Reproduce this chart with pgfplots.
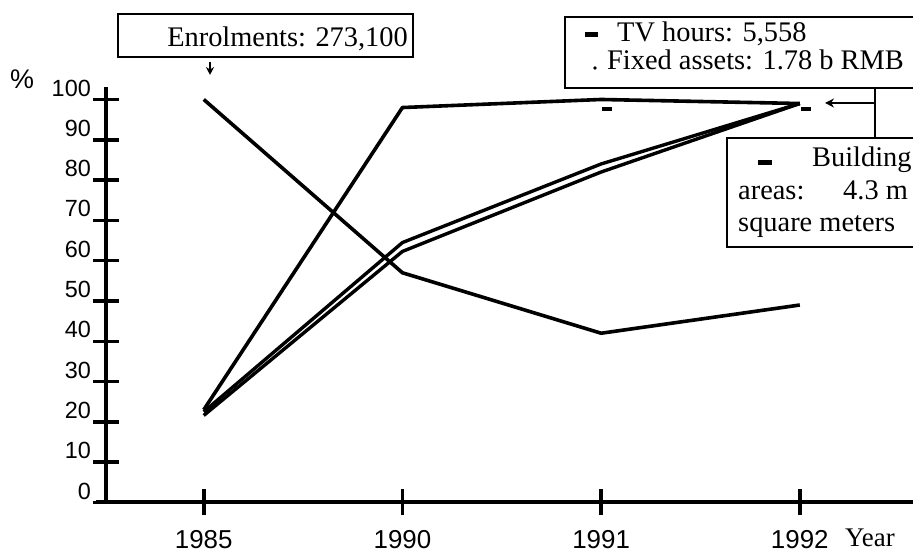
\documentclass[border=0pt]{standalone}
\usepackage{fontspec}
\setmainfont{Liberation Sans}
\newfontfamily\serif{Liberation Serif}
\usepackage{pgfplots}
\pgfplotsset{compat=1.18}
\usetikzlibrary{arrows.meta}

\pgfplotstableread{
x y
0 100
1 57
2 42
3 49
}\enrol
\pgfplotstableread{
x y
0 23
1 98
2 100
3 99
}\tvhours
\pgfplotstableread{
x y
0 22.5
1 64.5
2 84
3 99
}\building
\pgfplotstableread{
x y
0 21.6
1 62.3
2 82
3 99
}\fixed
\pgfplotstableread{
x y
2.03 97.6
3.03 97.6
}\dashes

\begin{document}
\begin{tikzpicture}[x=1bp,y=1bp]
\begin{axis}[
  at={(106bp,53.5bp)}, anchor=south west, scale only axis,
  width=813bp, height=415.5bp,
  xmin=-0.492, xmax=3.6, ymin=0, ymax=103.1,
  axis lines=left,
  axis line style={line width=4bp, -},
  x axis line style={shorten <=-10bp},
  xtick={0,1,2,3}, xticklabels={1985,1990,1991,1992},
  ytick={0,10,...,100},
  tick align=center, major tick length=26bp,
  tick style={line width=3.5bp, black},
  /pgf/number format/assume math mode=true,
  yticklabel style={font=\fontsize{23.5}{23.5}\selectfont, anchor=south east, inner sep=0pt, xshift=-2bp, yshift=3bp},
  xticklabel style={font=\fontsize{26}{26}\selectfont, anchor=north, inner sep=0pt, yshift=-15bp},
  clip=false,
]
\addplot[black, line width=3.6bp, line join=round] table {\enrol};
\addplot[black, line width=3.6bp, line join=round] table {\tvhours};
\addplot[black, line width=3.4bp, line join=round] table {\building};
\addplot[black, line width=3.4bp, line join=round] table {\fixed};
\addplot[black, only marks, mark=-, mark size=5bp, line width=4bp] table {\dashes};
\end{axis}

% Enrolments box
\draw[line width=2.5bp] (118,542) rectangle (413,499);
\node[anchor=base east, inner sep=0pt] at (408,509) {\serif\fontsize{28.5}{28.5}\selectfont Enrolments: 273,100};
\draw[line width=1.5bp, -{Stealth[length=8bp,width=8bp]}] (210,494) -- (210,481);

% TV / fixed assets box
\draw[line width=2.5bp] (565,539) rectangle (940,468);
\fill (585,519) rectangle (598,523.5);
\node[anchor=base west, inner sep=0pt] at (617,514) {\serif\fontsize{28.5}{28.5}\selectfont TV hours: 5,558};
\fill (595,488) circle (1.8bp);
\node[anchor=base west, inner sep=0pt] at (607,486) {\serif\fontsize{28.5}{28.5}\selectfont Fixed assets: 1.78 b RMB};

% connector
\draw[line width=2.5bp] (875,468) -- (875,418);
\draw[line width=2bp, -{Stealth[length=9bp,width=9bp]}] (875,453) -- (825,453);

% Building box
\draw[line width=2.5bp] (727,418) rectangle (940,309);
\fill (758,391) rectangle (772,395.5);
\node[anchor=base west, inner sep=0pt] at (812,389) {\serif\fontsize{28.5}{28.5}\selectfont Building};
\node[anchor=base west, inner sep=0pt] at (738,356) {\serif\fontsize{28.5}{28.5}\selectfont areas:};
\node[anchor=base west, inner sep=0pt] at (843,356) {\serif\fontsize{28.5}{28.5}\selectfont 4.3 m};
\node[anchor=base west, inner sep=0pt] at (738,324) {\serif\fontsize{28.5}{28.5}\selectfont square meters};

% axis titles
\node[anchor=base west, inner sep=0pt] at (845,9) {\serif\fontsize{27}{27}\selectfont Year};
\node[inner sep=0pt] at (22,477) {\fontsize{27}{27}\selectfont \%};

\pgfresetboundingbox
\path[use as bounding box] (0,0) rectangle (913,556);
\end{tikzpicture}
\end{document}
